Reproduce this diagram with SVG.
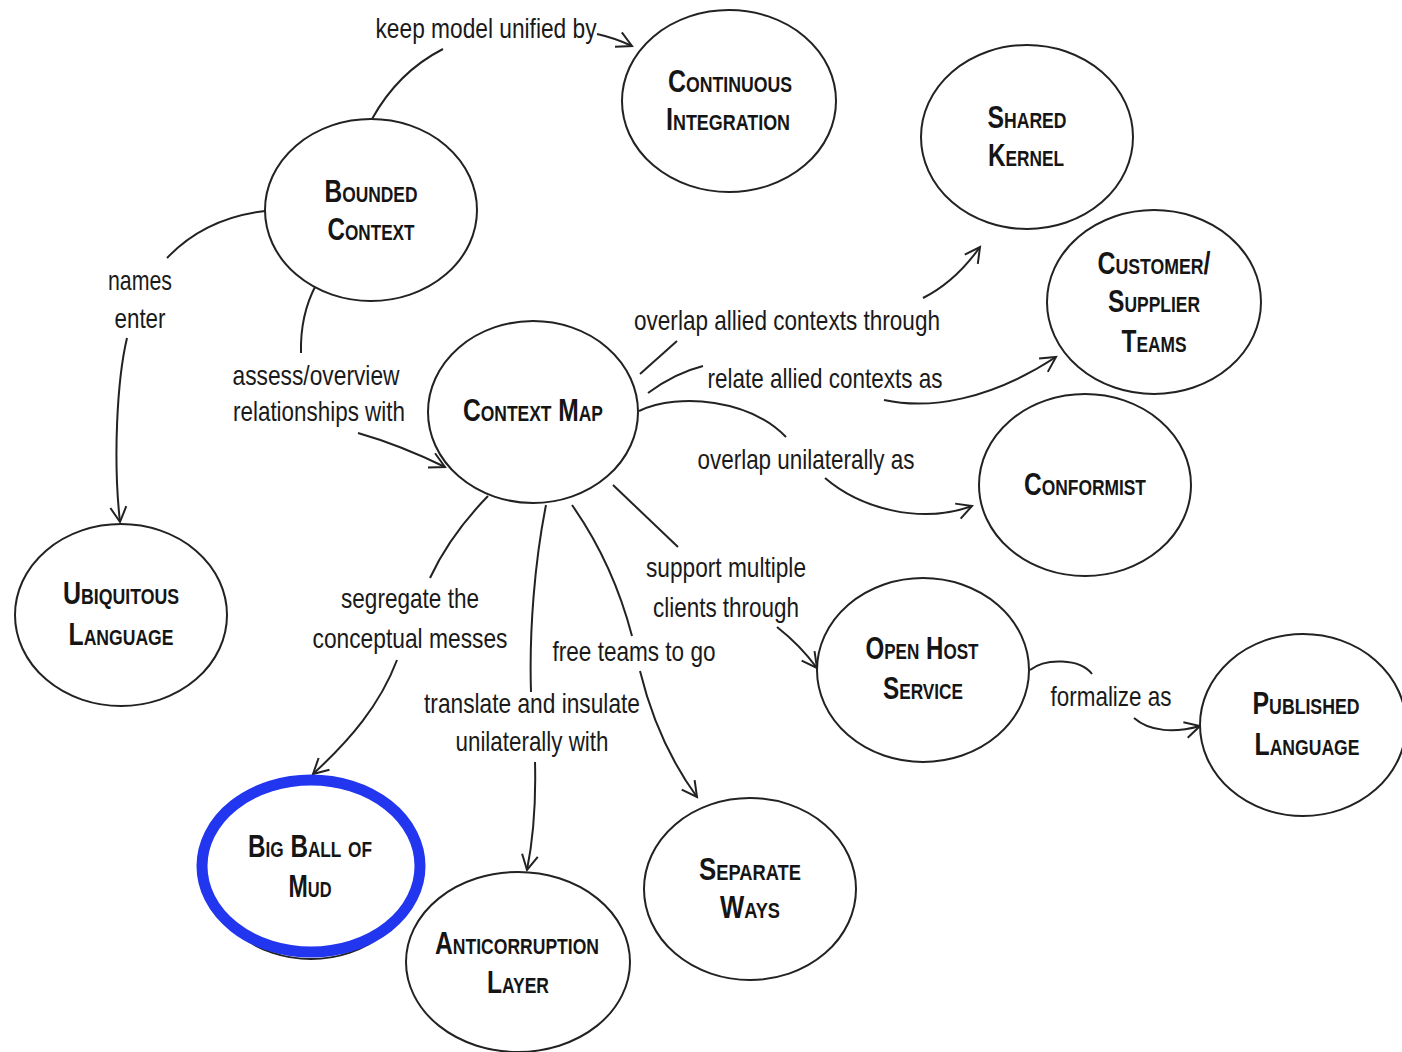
<svg xmlns="http://www.w3.org/2000/svg" width="1402" height="1052" viewBox="0 0 1402 1052">
<style>
.node{fill:#fff;stroke:#222;stroke-width:2}
.lbl{font-family:"Liberation Sans",Arial,sans-serif;font-weight:bold;font-size:31px;font-variant:small-caps;fill:#151515;text-anchor:middle}
.edge{fill:none;stroke:#222;stroke-width:2}
.el{font-family:"Liberation Sans",Arial,sans-serif;font-size:28px;fill:#1a1a1a;text-anchor:middle}
</style>
<defs>
<marker id="ah" viewBox="-16 -10 20 20" markerWidth="20" markerHeight="20" refX="0" refY="0" orient="auto" markerUnits="userSpaceOnUse">
<path d="M-15,-8 L0,0 L-15,8" fill="none" stroke="#222" stroke-width="2"/>
</marker>
</defs>
<rect width="1402" height="1052" fill="#fff"/>

<g id="connectors">
<path class="edge" d="M372,119 Q398,72 443,49"/>
<path class="edge" d="M597,34 Q615,38 632,46" marker-end="url(#ah)"/>
<text class="el" x="486" y="38" textLength="221" lengthAdjust="spacingAndGlyphs">keep model unified by</text>

<path class="edge" d="M265,211 Q205,218 167,258"/>
<path class="edge" d="M127,338 C117,380 113,460 120,522" marker-end="url(#ah)"/>
<text class="el" x="140" y="290" textLength="64" lengthAdjust="spacingAndGlyphs">names</text>
<text class="el" x="140" y="328" textLength="51" lengthAdjust="spacingAndGlyphs">enter</text>

<path class="edge" d="M316,285 Q300,315 301,353"/>
<path class="edge" d="M358,433 Q400,445 445,467" marker-end="url(#ah)"/>
<text class="el" x="316" y="385" textLength="167" lengthAdjust="spacingAndGlyphs">assess/overview</text>
<text class="el" x="319" y="421" textLength="172" lengthAdjust="spacingAndGlyphs">relationships with</text>

<path class="edge" d="M640,374 L677,341"/>
<path class="edge" d="M923,298 Q955,282 980,247" marker-end="url(#ah)"/>
<text class="el" x="787" y="330" textLength="306" lengthAdjust="spacingAndGlyphs">overlap allied contexts through</text>

<path class="edge" d="M648,393 Q675,373 703,366"/>
<path class="edge" d="M884,400 C930,410 990,400 1056,357" marker-end="url(#ah)"/>
<text class="el" x="825" y="388" textLength="235" lengthAdjust="spacingAndGlyphs">relate allied contexts as</text>

<path class="edge" d="M639,411 C680,392 750,400 786,437"/>
<path class="edge" d="M825,478 C860,508 920,525 972,506" marker-end="url(#ah)"/>
<text class="el" x="806" y="469" textLength="217" lengthAdjust="spacingAndGlyphs">overlap unilaterally as</text>

<path class="edge" d="M613,485 L678,547"/>
<path class="edge" d="M777,627 Q800,645 817,668" marker-end="url(#ah)"/>
<text class="el" x="726" y="577" textLength="160" lengthAdjust="spacingAndGlyphs">support multiple</text>
<text class="el" x="726" y="617" textLength="146" lengthAdjust="spacingAndGlyphs">clients through</text>

<path class="edge" d="M488,496 Q450,535 430,578"/>
<path class="edge" d="M397,660 C380,705 350,740 313,774" marker-end="url(#ah)"/>
<text class="el" x="410" y="608" textLength="138" lengthAdjust="spacingAndGlyphs">segregate the</text>
<text class="el" x="410" y="648" textLength="195" lengthAdjust="spacingAndGlyphs">conceptual messes</text>

<path class="edge" d="M546,505 C535,560 529,630 531,692"/>
<path class="edge" d="M535,762 C536,800 533,840 527,870" marker-end="url(#ah)"/>
<text class="el" x="532" y="713" textLength="216" lengthAdjust="spacingAndGlyphs">translate and insulate</text>
<text class="el" x="532" y="751" textLength="153" lengthAdjust="spacingAndGlyphs">unilaterally with</text>

<path class="edge" d="M572,505 C600,545 620,590 632,636"/>
<path class="edge" d="M640,671 C652,720 670,760 697,797" marker-end="url(#ah)"/>
<text class="el" x="634" y="661" textLength="163" lengthAdjust="spacingAndGlyphs">free teams to go</text>

<path class="edge" d="M1030,670 C1045,658 1080,658 1092,674"/>
<path class="edge" d="M1134,718 C1150,732 1175,733 1200,726" marker-end="url(#ah)"/>
<text class="el" x="1111" y="706" textLength="121" lengthAdjust="spacingAndGlyphs">formalize as</text>
</g>

<g id="bounded-context">
<ellipse class="node" cx="371" cy="210" rx="106" ry="91"/>
<text class="lbl" x="371" y="202" textLength="93" lengthAdjust="spacingAndGlyphs">Bounded</text>
<text class="lbl" x="371" y="240" textLength="87" lengthAdjust="spacingAndGlyphs">Context</text>
</g>

<g id="continuous-integration">
<ellipse class="node" cx="729" cy="101" rx="107" ry="91"/>
<text class="lbl" x="730" y="92" textLength="124" lengthAdjust="spacingAndGlyphs">Continuous</text>
<text class="lbl" x="728" y="130" textLength="124" lengthAdjust="spacingAndGlyphs">Integration</text>
</g>

<g id="shared-kernel">
<ellipse class="node" cx="1027" cy="137" rx="106" ry="92"/>
<text class="lbl" x="1027" y="128" textLength="79" lengthAdjust="spacingAndGlyphs">Shared</text>
<text class="lbl" x="1026" y="166" textLength="76" lengthAdjust="spacingAndGlyphs">Kernel</text>
</g>

<g id="customer-supplier-teams">
<ellipse class="node" cx="1154" cy="302" rx="107" ry="92"/>
<text class="lbl" x="1154" y="274" textLength="113" lengthAdjust="spacingAndGlyphs">Customer/</text>
<text class="lbl" x="1154" y="312" textLength="92" lengthAdjust="spacingAndGlyphs">Supplier</text>
<text class="lbl" x="1154" y="352" textLength="65" lengthAdjust="spacingAndGlyphs">Teams</text>
</g>

<g id="context-map">
<ellipse class="node" cx="533" cy="412" rx="105" ry="91"/>
<text class="lbl" x="533" y="421" textLength="140" lengthAdjust="spacingAndGlyphs">Context Map</text>
</g>

<g id="conformist">
<ellipse class="node" cx="1085" cy="485" rx="106" ry="91"/>
<text class="lbl" x="1085" y="495" textLength="122" lengthAdjust="spacingAndGlyphs">Conformist</text>
</g>

<g id="ubiquitous-language">
<ellipse class="node" cx="121" cy="615" rx="106" ry="91"/>
<text class="lbl" x="121" y="604" textLength="116" lengthAdjust="spacingAndGlyphs">Ubiquitous</text>
<text class="lbl" x="121" y="645" textLength="105" lengthAdjust="spacingAndGlyphs">Language</text>
</g>

<g id="open-host-service">
<ellipse class="node" cx="923" cy="670" rx="106" ry="92"/>
<text class="lbl" x="922" y="659" textLength="113" lengthAdjust="spacingAndGlyphs">Open Host</text>
<text class="lbl" x="923" y="699" textLength="80" lengthAdjust="spacingAndGlyphs">Service</text>
</g>

<g id="published-language">
<ellipse class="node" cx="1303" cy="725" rx="103" ry="91"/>
<text class="lbl" x="1306" y="714" textLength="107" lengthAdjust="spacingAndGlyphs">Published</text>
<text class="lbl" x="1307" y="755" textLength="105" lengthAdjust="spacingAndGlyphs">Language</text>
</g>

<g id="big-ball-of-mud">
<ellipse class="node" cx="311" cy="868" rx="106" ry="91"/>
<ellipse cx="311" cy="866" rx="109" ry="86" fill="#fff" stroke="#2136ee" stroke-width="11"/>
<text class="lbl" x="310" y="857" textLength="124" lengthAdjust="spacingAndGlyphs">Big Ball of</text>
<text class="lbl" x="310" y="897" textLength="43" lengthAdjust="spacingAndGlyphs">Mud</text>
</g>

<g id="anticorruption-layer">
<ellipse class="node" cx="518" cy="962" rx="112" ry="90"/>
<text class="lbl" x="517" y="954" textLength="164" lengthAdjust="spacingAndGlyphs">Anticorruption</text>
<text class="lbl" x="518" y="993" textLength="62" lengthAdjust="spacingAndGlyphs">Layer</text>
</g>

<g id="separate-ways">
<ellipse class="node" cx="750" cy="889" rx="106" ry="91"/>
<text class="lbl" x="750" y="880" textLength="102" lengthAdjust="spacingAndGlyphs">Separate</text>
<text class="lbl" x="750" y="918" textLength="60" lengthAdjust="spacingAndGlyphs">Ways</text>
</g>
</svg>
